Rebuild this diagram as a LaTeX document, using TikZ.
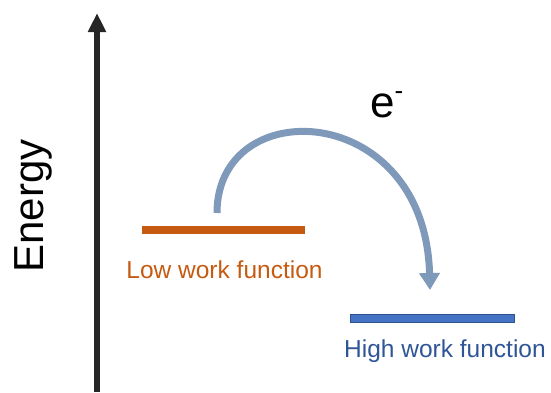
\documentclass[tikz,border=0pt]{standalone}
\usepackage{fontspec}
\setmainfont{Liberation Sans}
\usetikzlibrary{arrows.meta,positioning}
\definecolor{lowcol}{HTML}{C55A11}
\definecolor{highcol}{HTML}{4472C4}
\definecolor{highedge}{HTML}{2F528F}
\definecolor{hightext}{HTML}{2F5597}
\definecolor{jumpcol}{HTML}{7F99BA}
\definecolor{axiscol}{HTML}{262626}

\begin{document}
\begin{tikzpicture}[x=1pt,y=-1pt,
  bar/.style={inner sep=0pt,minimum height=8pt},
  lbl/.style={font=\fontsize{24.5}{28}\selectfont,inner sep=0pt,anchor=base}]
\useasboundingbox (0,0) rectangle (551,392);
% energy axis
\coordinate (bot) at (97,392);
\coordinate (top) at (97,13);
\draw[axiscol,line width=6pt,-{Triangle[length=19pt,width=17pt]}] (bot) -- (top);
\node[rotate=90,anchor=base,inner sep=0pt,font=\fontsize{42}{48}\selectfont] (E) at (43,206) {Energy};
% levels
\node[bar,fill=lowcol,minimum width=163pt] (low) at (223.5,229.5) {};
\node[bar,fill=highcol,draw=highedge,line width=1pt,minimum width=164pt] (high) at (432.5,318) {};
\node[lbl,text=lowcol] (lowlbl) at (224.5,278) {Low work function};
\node[lbl,text=hightext] (highlbl) at (445,357) {High work function};
% electron jump
\coordinate (from) at (217,213);
\coordinate (to) at (430,290);
\draw[jumpcol,line width=7pt,-{Triangle[length=17pt,width=20pt]}] (from) .. controls (217,92) and (425,100) .. (to);
\node[anchor=base west,inner sep=0pt,font=\fontsize{44}{48}\selectfont] (el) at (370,117) {e\raisebox{18pt}{\fontsize{26}{26}\selectfont -}};
\end{tikzpicture}
\end{document}
